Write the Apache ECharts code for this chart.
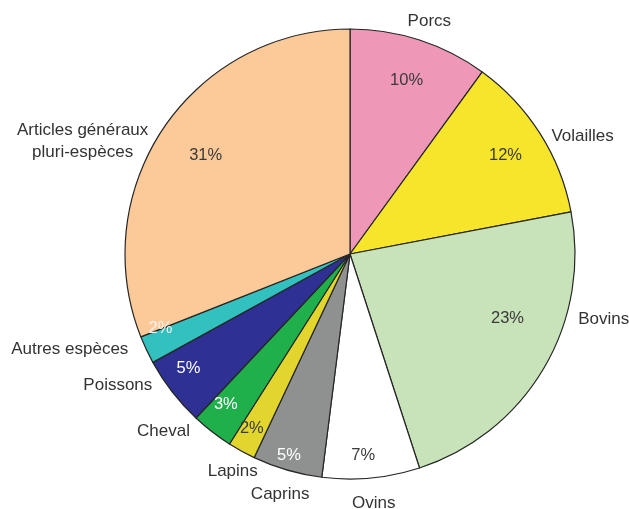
<!DOCTYPE html>
<html>
<head>
<meta charset="utf-8">
<script src="https://cdn.jsdelivr.net/npm/echarts@6/dist/echarts.min.js"></script>
<style>
html,body{margin:0;padding:0;background:#fff;}
#c{width:629px;height:509px;}
</style>
</head>
<body>
<div id="c"></div>
<script>
// ---- data ----
const categories = ["Porcs", "Volailles", "Bovins", "Ovins", "Caprins", "Lapins", "Cheval", "Poissons", "Autres espèces", "Articles généraux\npluri-espèces"];
const shares = [10, 12, 23, 7, 5, 2, 3, 5, 2, 31];

// ---- styling (kept apart from data) ----
const colors = ["#ee97b7", "#f6e52b", "#c8e2b9", "#ffffff", "#8e9190", "#e2d62e", "#20b04b", "#2e3193", "#32c1bf", "#fbca98"];
const pctColors = ["#3a3a3a", "#3a3a3a", "#3a3a3a", "#3a3a3a", "#ffffff", "#3a3a3a", "#ffffff", "#ffffff", "#f2f2f2", "#3a3a3a"];
const nameNudge = [[-20,-9],[-2,8],[21,-54],[-25,15],[30,15],[26,11],[-11,-8],[-7,-13],[-4,-5],[-68,19]];
const nameAlign = [null,null,null,null,null,null,null,null,null,"center"];
const pctNudge = [[0,0],[1,0],[0,-29],[-4,19],[-10,26],[-10,14],[-12,6],[-17,2],[-24,-3],[7,4]];

const FONT = "'Liberation Sans', Arial, Helvetica, sans-serif";
const center = [350, 254];
const R = 225;

const chart = echarts.init(document.getElementById('c'), null, {renderer: 'canvas'});

const mainData = categories.map((n, i) => ({
  name: n, value: shares[i],
  itemStyle: {color: colors[i]}
}));
const pctData = categories.map((n, i) => ({
  name: n, value: shares[i],
  label: {color: pctColors[i]}
}));

chart.setOption({
  animation: false,
  backgroundColor: '#ffffff',
  series: [
    {
      type: 'pie',
      center: center,
      radius: R,
      startAngle: 90,
      clockwise: true,
      avoidLabelOverlap: false,
      silent: true,
      data: mainData,
      itemStyle: {borderColor: '#262626', borderWidth: 1.2},
      label: {
        show: true, position: 'outside',
        formatter: '{b}',
        fontFamily: FONT, fontSize: 17, color: '#333333',
        lineHeight: 22, distanceToLabelLine: 5
      },
      labelLine: {show: false, length: 10, length2: 0},
      labelLayout: function (p) {
        const k = p.dataIndex;
        const o = {dx: nameNudge[k][0], dy: nameNudge[k][1]};
        if (nameAlign[k]) o.align = nameAlign[k];
        return o;
      },
      emphasis: {disabled: true}
    },
    {
      type: 'pie',
      center: center,
      radius: [150, 210],
      startAngle: 90,
      clockwise: true,
      avoidLabelOverlap: false,
      silent: true,
      data: pctData,
      itemStyle: {color: 'rgba(0,0,0,0)', borderWidth: 0},
      label: {
        show: true, position: 'inside',
        formatter: '{c}%',
        fontFamily: FONT, fontSize: 16.5
      },
      labelLine: {show: false},
      labelLayout: function (p) {
        const k = p.dataIndex;
        return {dx: pctNudge[k][0], dy: pctNudge[k][1]};
      },
      emphasis: {disabled: true}
    }
  ]
});
</script>
</body>
</html>
